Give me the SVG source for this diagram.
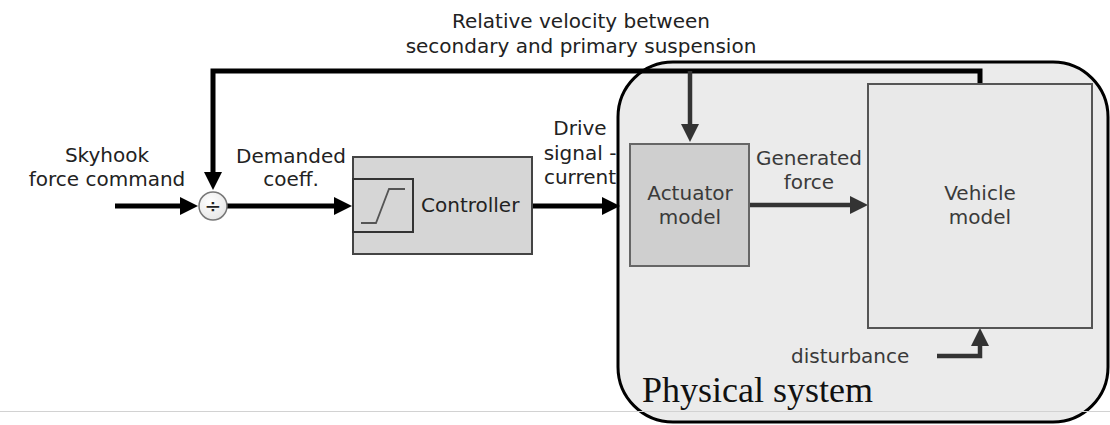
<svg xmlns="http://www.w3.org/2000/svg" width="1110" height="425" viewBox="0 0 1110 425">
<style>
text{font-family:"DejaVu Sans","Verdana",sans-serif;font-size:20px;fill:#222}
.c{text-anchor:middle}
.in{fill:#3a3a3a}
.ser{font-family:"Liberation Serif","Times New Roman",serif;font-size:36px;fill:#111}
.blk{fill:none;stroke:#000;stroke-width:5}
.dk{fill:none;stroke:#333;stroke-width:4.5}
</style>
<defs>
<marker id="ab" markerUnits="userSpaceOnUse" markerWidth="20" markerHeight="20" refX="4" refY="9" orient="auto" viewBox="0 0 20 18">
<path d="M0,0 L18,9 L0,18 z" fill="#000"/>
</marker>
<marker id="ad" markerUnits="userSpaceOnUse" markerWidth="20" markerHeight="20" refX="4" refY="9" orient="auto" viewBox="0 0 20 18">
<path d="M0,0 L18,9 L0,18 z" fill="#333"/>
</marker>
<radialGradient id="cg" cx="0.4" cy="0.35" r="0.7">
<stop offset="0" stop-color="#fff"/><stop offset="1" stop-color="#e6e6e6"/>
</radialGradient>
</defs>
<rect width="1110" height="425" fill="#fff"/>

<g id="physical-system">
<rect x="618" y="62" width="490" height="360" rx="55" ry="55" fill="#ebebeb" stroke="#000" stroke-width="3"/>
<text class="ser" x="642" y="402">Physical system</text>
</g>
<line x1="0" y1="411.5" x2="1110" y2="411.5" stroke="#d2d2d2" stroke-width="1"/>

<g id="labels">
<text class="c" x="581" y="28">Relative velocity between</text>
<text class="c" x="581" y="53">secondary and primary suspension</text>
<text class="c" x="107" y="162">Skyhook</text>
<text class="c" x="107" y="186">force command</text>
<text class="c" x="291" y="163">Demanded</text>
<text class="c" x="291" y="186">coeff.</text>
<text class="c" x="580" y="135">Drive</text>
<text class="c" x="580" y="160">signal -</text>
<text class="c" x="580" y="184">current</text>
</g>

<g id="connectors">
<path class="blk" d="M980,84 V71 H213 V176" marker-end="url(#ab)"/>
<path class="dk" d="M690,71 V128" marker-end="url(#ad)"/>
<path class="blk" d="M115,206 H184" marker-end="url(#ab)"/>
<path class="blk" d="M227,206 H338" marker-end="url(#ab)"/>
<path class="blk" d="M532,206 H606" marker-end="url(#ab)"/>
<path class="dk" d="M749,205 H854" marker-end="url(#ad)"/>
<path class="dk" d="M937,356 H980 V342" marker-end="url(#ad)"/>
</g>

<g id="divide">
<circle cx="213" cy="206" r="14" fill="url(#cg)" stroke="#777" stroke-width="1.5"/>
<text class="c" x="213" y="213" style="font-size:20px">÷</text>
</g>

<g id="controller">
<rect x="353" y="157" width="179" height="97" fill="#d6d6d6" stroke="#444" stroke-width="2"/>
<rect x="353" y="179" width="60" height="53" fill="#d6d6d6" stroke="#333" stroke-width="2"/>
<path d="M361,223 H376 L389,189 H405" fill="none" stroke="#555" stroke-width="1.8"/>
<text x="421" y="212">Controller</text>
</g>

<g id="actuator">
<rect x="630" y="144" width="119" height="122" fill="#cfcfcf" stroke="#666" stroke-width="2"/>
<text class="c in" x="690" y="200">Actuator</text>
<text class="c in" x="690" y="224">model</text>
</g>

<text class="c in" x="809" y="165">Generated</text>
<text class="c in" x="809" y="189">force</text>

<g id="vehicle">
<rect x="868" y="84" width="224" height="244" fill="#e9e9e9" stroke="#555" stroke-width="2"/>
<text class="c in" x="980" y="200">Vehicle</text>
<text class="c in" x="980" y="224">model</text>
</g>

<text class="in" x="791" y="363">disturbance</text>
</svg>
